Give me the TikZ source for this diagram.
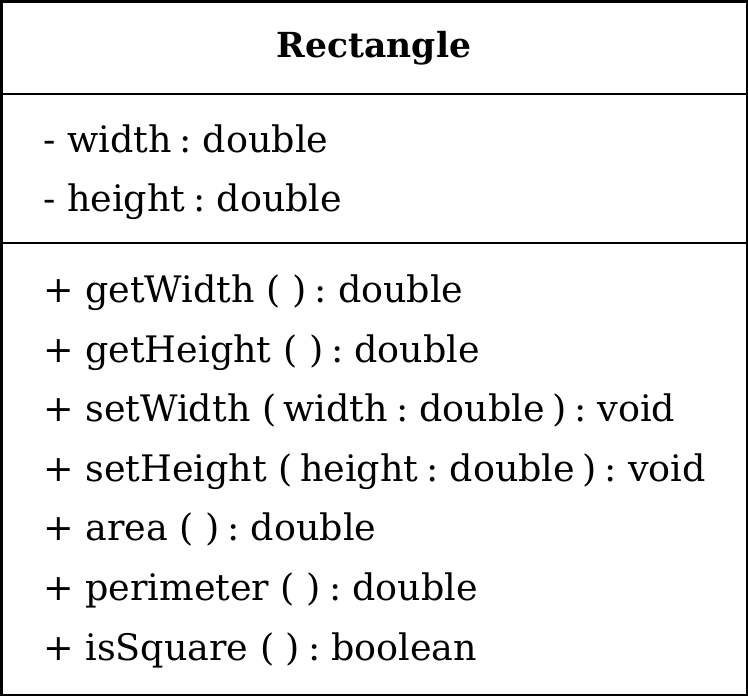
\documentclass[tikz,border=0pt]{standalone}
\usepackage{fontspec}
\setmainfont{DejaVu Serif}
% type colon, tight on the left
\newcommand{\tc}{\hspace{0.22em}:\hspace{0.3em}}
% narrow gap inside a parameter list
\newcommand{\pg}{\hspace{0.2em}}
\begin{document}
\begin{tikzpicture}[x=1pt,y=-1pt,
  frame/.style={line width=2.5pt},
  member/.style={anchor=base west, inner sep=0pt, font=\fontsize{36.5}{40}\selectfont},
  title/.style={anchor=base, inner sep=0pt, font=\fontsize{34.5}{40}\selectfont\bfseries}]
\useasboundingbox (0,0) rectangle (748,696);
% class box with its three compartments
\draw[frame] (1.25,1.25) rectangle (746.75,694.75);
\draw[frame] (1.25,94) -- (746.75,94);
\draw[frame] (1.25,243) -- (746.75,243);
% class name
\node[title] (cls) at (374,57) {Rectangle};
% attributes
\node[member] (a1) at (43,152) {- width\tc double};
\node[member] (a2) at (43,211.6) {- height\tc double};
% operations
\node[member] (m1) at (43,302.4) {+ getWidth ( )\tc double};
\node[member] (m2) at (43,362) {+ getHeight ( )\tc double};
\node[member] (m3) at (43,421.6) {+ setWidth (\pg width\tc double\pg)\tc void};
\node[member] (m4) at (43,481.2) {+ setHeight (\pg height\tc double\pg)\tc void};
\node[member] (m5) at (43,540.8) {+ area ( )\tc double};
\node[member] (m6) at (43,600.4) {+ perimeter ( )\tc double};
\node[member] (m7) at (43,660) {+ isSquare ( )\tc boolean};
\end{tikzpicture}
\end{document}
